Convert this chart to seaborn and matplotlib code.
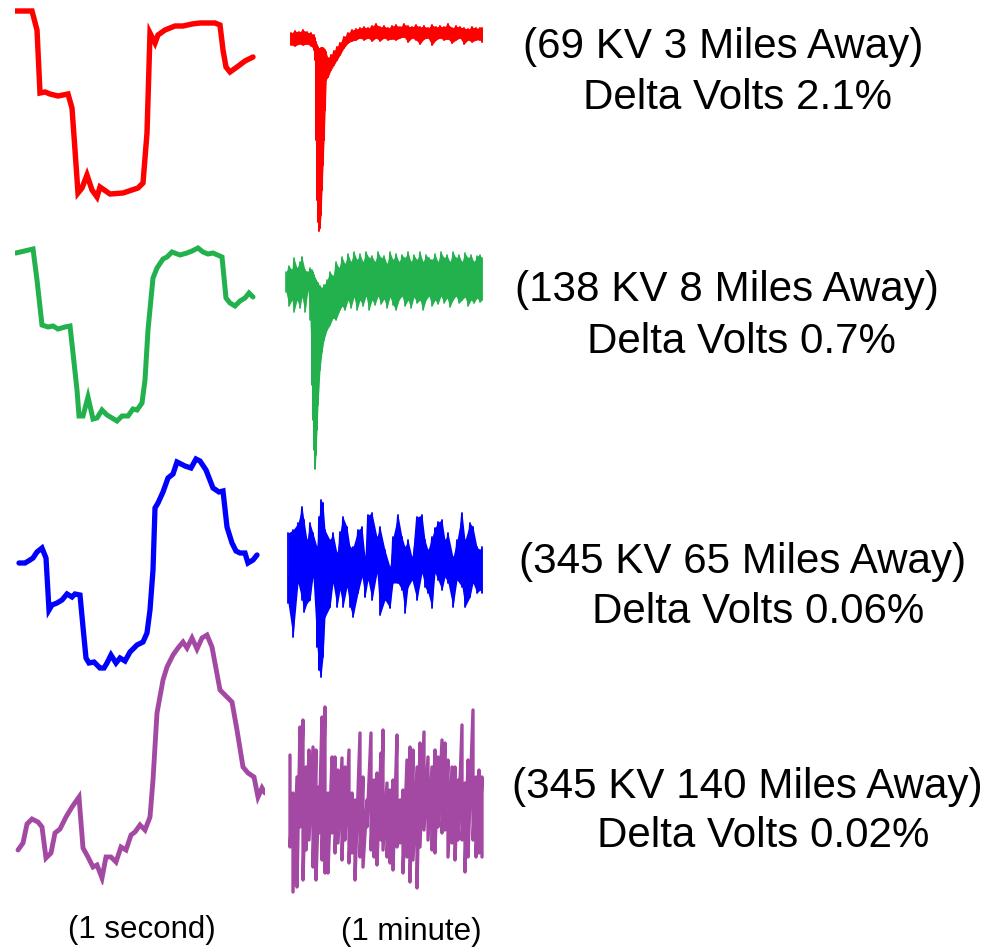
import numpy as np
import pandas as pd
import matplotlib
matplotlib.use("Agg")
import matplotlib.pyplot as plt
import seaborn as sns

sns.set_theme(style="white")
plt.rcParams['font.family'] = ['Liberation Sans', 'DejaVu Sans']

# ---------------- 1-second traces (time units, relative volts) ----------------
red_t = [0,17,22,25,30,35,43,53,57,60,63,67,72,77,82,85,95,108,117,123,128,132,135,140,143,150,160,168,177,185,193,200,205,208,211,215,222,230,238]
red_v = [194,194,175,112,113,111,109,111,97,55,12,17,30,15,8,18,11,12,15,17,22,72,172,162,170,175,179,179,181,182,182,182,180,155,138,133,138,144,148]

green_t = [1,18,22,27,33,38,43,50,55,58,62,64,68,73,78,82,87,92,97,102,107,113,118,122,127,130,133,138,142,148,152,157,165,172,177,183,188,193,198,207,211,215,220,225,230,234,238]
green_v = [172,176,145,100,98,99,96,98,99,72,35,9,9,28,6,7,15,10,7,4,9,9,16,15,22,45,95,147,157,166,168,173,170,172,174,177,173,171,172,168,127,122,119,124,127,132,128]

blue_t = [4,10,15,18,22,27,31,34,37,42,47,52,57,60,65,68,71,74,79,82,85,89,92,96,101,105,110,115,122,128,132,135,138,140,143,148,153,158,162,170,176,181,185,191,198,204,208,212,217,221,225,230,233,238,242]
blue_v = [109,109,112,114,120,124,114,62,67,69,72,78,75,78,77,45,14,9,10,7,4,4,9,17,9,14,11,20,27,30,39,62,102,164,169,180,194,198,210,206,204,213,211,202,184,180,181,145,129,121,119,119,109,112,117]

purple_t = [3,8,12,17,23,27,31,36,40,45,51,57,64,68,73,78,82,87,91,96,101,106,111,116,120,125,130,135,138,142,148,152,158,163,168,172,177,182,187,192,197,205,213,217,222,228,233,239,243,247,250]
purple_v = [35,42,61,66,63,58,27,32,52,56,68,78,88,37,28,18,20,7,28,28,23,38,35,50,53,60,55,68,105,172,205,218,230,237,243,237,247,236,247,250,238,195,187,183,155,118,112,108,88,97,92]

# ---------------- 1-minute traces: upper / lower envelope ----------------
rred_t = [6,10,14,18,22,26,29,30,31,32,33,34,35,36,37,38,39,40,41,43,46,49,52,55,
          59,63,67,71,75,79,83,87,91,95,99,103,107,111,115,119,123,127,131,135,139,143,147,151,155,159,163,167,171,175,179,183,187,191,195,197]
rred_hi = [202,204,203,205,203,202,200,197,193,190,188,186,186,187,187,187,186,185,183,177,180,184,188,192,
           198,202,205,206,207,208,207,209,211,208,209,207,209,210,208,211,209,208,210,208,209,207,210,208,209,208,211,207,209,208,207,206,208,207,207,207]
rred_lo = [190,189,191,190,191,189,185,175,95,35,13,4,7,20,45,70,95,125,155,158,165,170,175,180,
           187,192,194,195,197,195,197,194,197,194,197,195,196,195,197,198,193,197,195,191,196,197,190,195,197,195,196,192,195,197,191,195,193,195,195,193]

rgreen_t = [1,4,7,9,12,15,17,20,23,25,27,28,29,30,31,32,33,35,37,39,
            42,45,48,51,54,57,60,63,66,69,72,75,78,81,84,87,90,93,96,99,102,105,108,111,114,117,120,123,126,129,
            132,135,138,141,144,147,150,153,156,159,162,165,168,171,174,177,180,183,186,189,192,195,197]
rgreen_hi = [203,209,205,217,207,213,218,205,203,207,205,203,200,197,195,193,192,189,187,190,
             195,203,199,213,207,218,211,221,213,223,215,221,213,223,217,219,213,223,217,219,
             211,223,215,221,213,220,217,223,213,220,215,223,213,220,217,215,221,213,223,217,
             220,213,223,217,220,213,222,217,220,213,219,220,217]
rgreen_lo = [183,169,175,163,175,167,178,163,185,155,90,55,25,6,20,45,70,105,123,135,
             145,150,157,155,163,169,165,175,167,178,165,175,169,179,165,175,170,179,171,176,
             167,178,170,165,175,179,169,175,167,178,172,175,165,175,179,169,175,171,179,172,
             177,168,175,179,172,175,178,169,175,172,177,173,175]

rblue_t = [3,8,13,17,19,22,25,28,32,34,36,38,40,45,48,52,55,58,62,65,68,73,77,80,83,87,92,95,100,105,
           108,113,117,120,123,127,132,137,140,143,147,150,153,157,160,163,168,172,177,180,185,188,192,195,197]
rblue_hi = [147,150,157,173,160,140,157,147,133,163,180,177,150,140,147,127,148,163,153,133,133,150,153,123,165,167,143,153,130,113,
            143,165,143,133,140,123,163,165,140,130,143,152,158,160,140,147,123,140,167,140,157,153,133,130,133]
rblue_lo = [77,43,97,80,68,77,80,103,33,10,3,23,63,73,97,73,90,73,93,73,63,87,103,83,100,80,107,65,80,72,
            97,97,90,67,93,100,80,107,93,87,72,107,100,90,103,97,73,100,93,73,83,97,87,90,87]

rpurple_t = [5,8,12,15,18,21,24,28,31,34,37,40,43,47,50,53,57,60,64,67,70,75,78,82,86,89,92,96,98,102,
             105,108,112,115,118,122,125,128,132,135,139,143,147,150,153,157,160,163,167,170,173,177,180,183,188,191,194,197]
rpurple_hi = [140,102,118,168,175,128,145,148,145,108,178,188,102,138,138,125,137,128,145,102,95,162,118,95,162,115,122,142,165,112,
              105,115,160,95,105,135,148,145,128,152,163,138,128,145,138,155,152,135,128,128,115,170,112,135,185,118,125,118]
rpurple_lo = [48,3,8,68,15,45,55,28,15,62,35,22,22,62,42,52,35,55,32,42,15,38,28,68,45,38,30,55,45,38,
              32,25,48,52,22,38,13,35,7,48,65,55,45,42,68,62,65,38,52,35,55,55,23,38,55,38,42,38]

titles = ["(69 KV 3 Miles Away)", "(138 KV 8 Miles Away)", "(345 KV 65 Miles Away)", "(345 KV 140 Miles Away)"]
deltas = ["Delta Volts 2.1%", "Delta Volts 0.7%", "Delta Volts 0.06%", "Delta Volts 0.02%"]
span_labels = ["(1 second)", "(1 minute)"]

colors = ["#FF0000", "#22B14C", "#0000FF", "#A349A4"]

W, H = 997, 949
fig = plt.figure(figsize=(W / 100, H / 100), dpi=100)
fig.patch.set_facecolor("white")


def place(x0, x1, ytop, ybot):
    ax = fig.add_axes([x0 / W, 1 - ybot / H, (x1 - x0) / W, (ybot - ytop) / H])
    ax.set_facecolor("none")
    ax.axis("off")
    return ax


def zigzag(t, hi, lo):
    xs, ys = [], []
    for a, h, l in zip(t, hi, lo):
        xs += [a, a]
        ys += [h, l]
    return pd.DataFrame({"t": xs, "v": ys})


left_series = [(red_t, red_v), (green_t, green_v), (blue_t, blue_v), (purple_t, purple_v)]
left_boxes = [(5, 205), (225, 425), (452, 672), (625, 885)]
left_lw = [3.9, 3.6, 3.8, 3.5]
right_series = [(rred_t, rred_hi, rred_lo), (rgreen_t, rgreen_hi, rgreen_lo),
                (rblue_t, rblue_hi, rblue_lo), (rpurple_t, rpurple_hi, rpurple_lo)]
right_boxes = [(5, 235), (225, 475), (480, 680), (680, 895)]
right_fill = [True, True, True, False]
right_lw = [1.4, 1.2, 1.3, 2.4]

for i in range(4):
    t, v = left_series[i]
    ytop, ybot = left_boxes[i]
    ax = place(15, 265, ytop, ybot)
    df = pd.DataFrame({"t": t, "v": v})
    sns.lineplot(data=df, x="t", y="v", ax=ax, color=colors[i], lw=left_lw[i],
                 estimator=None, sort=False, solid_joinstyle="miter")
    ax.set_xlim(0, 250)
    ax.set_ylim(0, ybot - ytop)
    ax.axis("off")

    t2, hi, lo = right_series[i]
    ytop, ybot = right_boxes[i]
    ax2 = place(285, 485, ytop, ybot)
    if right_fill[i]:
        ax2.fill_between(t2, lo, hi, color=colors[i], lw=0)
    zz = zigzag(t2, hi, lo)
    sns.lineplot(data=zz, x="t", y="v", ax=ax2, color=colors[i], lw=right_lw[i],
                 estimator=None, sort=False)
    ax2.set_xlim(0, 200)
    ax2.set_ylim(0, ybot - ytop)
    ax2.axis("off")

title_pos = [(523, 47), (515, 290), (519, 562), (512, 787)]
delta_pos = [(583, 98), (587, 342), (592, 612), (597, 836)]
for i in range(4):
    x, y = title_pos[i]
    fig.text(x / W, 1 - y / H, titles[i], ha="left", va="center", fontsize=30.3, color="black")
    x, y = delta_pos[i]
    fig.text(x / W, 1 - y / H, deltas[i], ha="left", va="center", fontsize=30.3, color="black")

fig.text(68 / W, 1 - 930 / H, span_labels[0], ha="left", va="center", fontsize=22.5, color="black")
fig.text(341 / W, 1 - 932 / H, span_labels[1], ha="left", va="center", fontsize=22.5, color="black")

fig.savefig("out.png", dpi=100, facecolor="white")
